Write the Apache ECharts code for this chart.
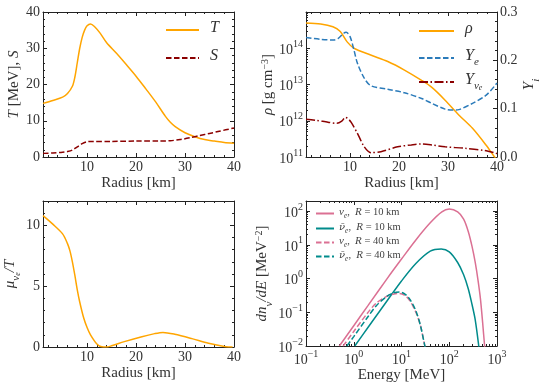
<!DOCTYPE html>
<html>
<head>
<meta charset="utf-8">
<script src="https://cdn.jsdelivr.net/npm/echarts@6/dist/echarts.min.js"></script>
<style>
  html, body { margin: 0; padding: 0; background: #fff; }
  #chart { width: 540px; height: 390px; }
</style>
</head>
<body>
<div id="chart"></div>
<script>
// ---------- data ----------
// radius axis (km)
const radiusTicks = [10, 20, 30, 40];
const radiusMinor = [2, 4, 6, 8, 12, 14, 16, 18, 22, 24, 26, 28, 32, 34, 36, 38];

// top-left: temperature T [MeV] and entropy S
const tempT = [[1, 14.8], [3, 15.6], [5, 16.5], [6, 17.5], [7, 19.5], [7.5, 22], [8, 26], [8.5, 30], [9, 33],
  [9.5, 35], [10, 36.2], [10.7, 36.7], [11.5, 36], [12.7, 34.1], [14, 31.5], [16, 28.6], [18, 25.5], [20, 22.3],
  [22, 18.8], [24, 15.2], [26, 11.2], [27, 9.6], [28, 8.4], [30, 6.7], [32, 5.6], [34, 4.8], [36, 4.4], [38, 4.0], [40, 3.8]];
const entropyS = [[1, 1.0], [3, 1.1], [5, 1.3], [6, 1.5], [7, 1.9], [8, 2.8], [9, 3.7], [10, 4.2], [11, 4.3],
  [15, 4.3], [20, 4.4], [25, 4.4], [27, 4.5], [29, 4.8], [31, 5.3], [33, 5.9], [35, 6.5], [37, 7.1], [40, 8.0]];
const tTicks = [0, 10, 20, 30, 40];
const tMinor = [2, 4, 6, 8, 12, 14, 16, 18, 22, 24, 26, 28, 32, 34, 36, 38];

// top-right: density rho [g cm^-3] and fractions Y_e, Y_nue
const density = [[1, 5.0e14], [4, 4.7e14], [6.5, 3.9e14], [8, 2.9e14], [9.4, 1.5e14], [10.8, 1.0e14], [14.2, 6.5e13],
  [17.7, 4.3e13], [21.1, 2.5e13], [24.6, 1.3e13], [26.7, 8.3e12], [29.4, 3.7e12], [32.2, 1.45e12], [35, 6.2e11],
  [37.8, 2.1e11], [39.5, 1.0e11], [40, 0.85e11]];
const fracYe = [[1, 0.247], [3.9, 0.2435], [6.6, 0.242], [7.6, 0.2455], [8.7, 0.256], [9.2, 0.258], [10, 0.249],
  [10.8, 0.221], [11.5, 0.194], [12.9, 0.163], [14.25, 0.1475], [17.7, 0.14], [21.1, 0.133], [24.6, 0.121],
  [26.7, 0.111], [29.4, 0.099], [31, 0.097], [32.2, 0.098], [35, 0.111], [37.8, 0.128], [40, 0.153]];
const fracYnue = [[1, 0.078], [3, 0.076], [5.5, 0.072], [7.3, 0.0697], [8.3, 0.074], [9.05, 0.082], [9.6, 0.079],
  [10.2, 0.072], [11.5, 0.049], [12.9, 0.021], [14.25, 0.009], [16.3, 0.011], [19.7, 0.021], [22.5, 0.025],
  [24.6, 0.027], [26.7, 0.025], [29.4, 0.021], [33.5, 0.018], [37.8, 0.013], [40, 0.007]];
const rhoTicks = [1e11, 1e12, 1e13, 1e14, 1e15];
const rhoMinor = [11, 12, 13, 14].flatMap(e => [2, 3, 4, 5, 6, 7, 8, 9].map(m => m * Math.pow(10, e)));
const yiTicks = [0, 0.1, 0.2, 0.3];
const yiMinor = [0.02, 0.04, 0.06, 0.08, 0.12, 0.14, 0.16, 0.18, 0.22, 0.24, 0.26, 0.28];

// bottom-left: degeneracy mu_nue / T
const degeneracy = [[1, 10.8], [3, 10.1], [5, 9.3], [6, 8.5], [6.5, 7.9], [7, 7.0], [7.5, 5.9], [8, 4.7],
  [8.5, 3.7], [9.3, 2.4], [10, 1.6], [10.7, 1.0], [12, 0.25], [13, 0.02], [14, 0], [15, 0.1], [17.6, 0.44],
  [21, 0.83], [23.8, 1.1], [25.5, 1.2], [27.9, 1.05], [31.4, 0.69], [34.8, 0.3], [38.3, 0.03], [39.7, 0]];
const muTicks = [0, 5, 10];
const muMinor = [1, 2, 3, 4, 6, 7, 8, 9, 11];

// bottom-right: spectra dn/dE [MeV^-2] vs energy [MeV]
const nue10 = [[0.5, 0.01], [1, 0.04], [2, 0.16], [5, 1.0], [10, 3.8], [20, 14], [40, 45], [70, 95], [100, 115],
  [150, 95], [200, 58], [250, 25], [300, 9], [350, 3], [400, 0.9], [450, 0.25], [500, 0.05], [550, 0.01], [570, 0.006]];
const anue10 = [[1.05, 0.01], [2, 0.036], [5, 0.22], [10, 0.85], [20, 2.8], [40, 6.5], [68, 7.5], [100, 6.2],
  [150, 3], [200, 1.3], [250, 0.5], [300, 0.17], [350, 0.06], [415, 0.01], [430, 0.006]];
const nue40 = [[0.6, 0.01], [1, 0.027], [2, 0.1], [3, 0.19], [5, 0.3], [7, 0.35], [9, 0.36], [12, 0.31],
  [15, 0.22], [20, 0.1], [25, 0.04], [30, 0.012], [32, 0.008]];
const anue40 = [[0.72, 0.01], [1, 0.019], [2, 0.075], [3, 0.16], [5, 0.3], [7, 0.38], [9, 0.4], [12, 0.34],
  [15, 0.24], [20, 0.11], [25, 0.04], [30, 0.012], [32, 0.008]];
const energyTicks = [0.1, 1, 10, 100, 1000];
const energyMinor = [-1, 0, 1, 2].flatMap(e => [2, 3, 4, 5, 6, 7, 8, 9].map(m => m * Math.pow(10, e)));
const specTicks = [0.01, 0.1, 1, 10, 100];
const specMinor = [-2, -1, 0, 1, 2].flatMap(e => [2, 3, 4, 5, 6, 7, 8, 9].map(m => m * Math.pow(10, e))).filter(v => v < 200);

// ---------- style ----------
const FONT = "'Liberation Serif', 'DejaVu Serif', serif";
const INK = '#222';   // frame and ticks
const TEXT = '#333';  // labels
const ORANGE = '#ffa500';
const DARKRED = '#8b0000';
const BLUE = '#2b7bba';
const PINK = '#db7093';
const TEAL = '#008b8b';

const tok = (extra) => Object.assign({ fontFamily: FONT, fontWeight: 'normal', color: TEXT }, extra);

const labelRich = {
  b: tok({ fontSize: 14, lineHeight: 18, verticalAlign: 'bottom' }),
  sup: tok({ fontSize: 10, lineHeight: 10, verticalAlign: 'top' })
};
const nameRich = {
  r: tok({ fontSize: 15, lineHeight: 20, verticalAlign: 'top' }),
  i: tok({ fontSize: 15, fontStyle: 'italic', lineHeight: 20, verticalAlign: 'top' }),
  sup: tok({ fontSize: 10, lineHeight: 10, verticalAlign: 'top' }),
  sub: tok({ fontSize: 11, fontStyle: 'italic', lineHeight: 11, verticalAlign: 'bottom' }),
  sub2: tok({ fontSize: 8, fontStyle: 'italic', lineHeight: 8, verticalAlign: 'bottom' })
};
const nameStyle = tok({ fontSize: 15, rich: nameRich });

const powLabel = v => {
  const e = Math.round(Math.log10(v));
  if (Math.abs(Math.log10(v) - e) > 1e-6) return '';
  return '{b|10}{sup|' + (e < 0 ? '\u2212' + (-e) : e) + '}';
};

// main axis (frame line + major ticks + optional labels) and a companion axis for minor ticks
function axisPair(o) {
  const main = {
    type: o.type || 'value', gridIndex: o.grid, position: o.pos, min: o.min, max: o.max,
    axisLine: { show: true, onZero: false, lineStyle: { color: INK, width: 1 } },
    axisTick: { show: true, inside: true, length: 4, customValues: o.majors, lineStyle: { color: INK, width: 1 } },
    axisLabel: o.labels ? Object.assign(tok({ fontSize: 14, rich: labelRich }), {
      show: true, customValues: o.majors, margin: o.margin || 3, formatter: o.formatter
    }) : { show: false },
    splitLine: { show: false },
    minorTick: { show: false }
  };
  if (o.name) {
    Object.assign(main, { name: o.name, nameLocation: 'middle', nameGap: o.nameGap, nameTextStyle: nameStyle });
    if (o.nameRotate != null) main.nameRotate = o.nameRotate;
  }
  const minor = {
    type: o.type || 'value', gridIndex: o.grid, position: o.pos, min: o.min, max: o.max,
    axisLine: { show: false, onZero: false },
    axisTick: { show: true, inside: true, length: 2, customValues: o.minors, lineStyle: { color: INK, width: 1 } },
    axisLabel: { show: false },
    splitLine: { show: false }
  };
  if (o.type === 'log') { main.logBase = 10; minor.logBase = 10; }
  return [main, minor];
}

const radiusAxes = (grid) => [
  ...axisPair({ grid, pos: 'bottom', min: 1, max: 40, majors: radiusTicks, minors: radiusMinor, labels: true,
    formatter: v => String(v), name: '{r|Radius [km]}', nameGap: 19 }),
  ...axisPair({ grid, pos: 'top', min: 1, max: 40, majors: radiusTicks, minors: radiusMinor })
];

const xAxes = [
  ...radiusAxes(0),   // 0..3
  ...radiusAxes(1),   // 4..7
  ...radiusAxes(2),   // 8..11
  ...axisPair({ grid: 3, pos: 'bottom', type: 'log', min: 0.1, max: 1000, majors: energyTicks, minors: energyMinor,
    labels: true, formatter: powLabel, name: '{r|Energy [MeV]}', nameGap: 19 }),
  ...axisPair({ grid: 3, pos: 'top', type: 'log', min: 0.1, max: 1000, majors: energyTicks, minors: energyMinor })
];

const yAxes = [
  // 0..3 top-left
  ...axisPair({ grid: 0, pos: 'left', min: 0, max: 40, majors: tTicks, minors: tMinor, labels: true,
    formatter: v => String(v), name: '{i|T}{r| [MeV], }{i|S}', nameGap: 16, nameRotate: 90 }),
  ...axisPair({ grid: 0, pos: 'right', min: 0, max: 40, majors: tTicks, minors: tMinor }),
  // 4..7 top-right
  ...axisPair({ grid: 1, pos: 'left', type: 'log', min: 1e11, max: 1e15, majors: rhoTicks, minors: rhoMinor,
    labels: true, formatter: powLabel, name: '{i|ρ}{r| [g cm}{sup|\u22123}{r|]}', nameGap: 17, nameRotate: 90 }),
  ...axisPair({ grid: 1, pos: 'right', min: 0, max: 0.3, majors: yiTicks, minors: yiMinor, labels: true,
    formatter: v => v.toFixed(1), name: '{i|Y}{sub|i}', nameGap: 21, nameRotate: 90 }),
  // 8..11 bottom-left
  ...axisPair({ grid: 2, pos: 'left', min: 0, max: 12, majors: muTicks, minors: muMinor, labels: true,
    formatter: v => String(v), name: '{i|μ}{sub|ν}{sub2|e}{i|/T}', nameGap: 18, nameRotate: 90 }),
  ...axisPair({ grid: 2, pos: 'right', min: 0, max: 12, majors: muTicks, minors: muMinor }),
  // 12..15 bottom-right
  ...axisPair({ grid: 3, pos: 'left', type: 'log', min: 0.01, max: 200, majors: specTicks, minors: specMinor,
    labels: true, formatter: powLabel, name: '{i|dn}{sub|ν}{i|/dE}{r| [MeV}{sup|\u22122}{r|]}', nameGap: 19, nameRotate: 90 }),
  ...axisPair({ grid: 3, pos: 'right', type: 'log', min: 0.01, max: 200, majors: specTicks, minors: specMinor })
];

const line = (name, data, xi, yi, color, type) => ({
  name, type: 'line', data, xAxisIndex: xi, yAxisIndex: yi,
  symbol: 'none', showSymbol: false, smooth: 0.3, clip: true,
  lineStyle: { color, width: 1.5, type: type || 'solid' },
  itemStyle: { color }
});

const DASH = [5.5, 2.5];
const DASHDOT = [9, 2.5, 1.5, 2.5];

const series = [
  line('T', tempT, 0, 0, ORANGE),
  line('S', entropyS, 0, 0, DARKRED, DASH),
  line('rho', density, 4, 4, ORANGE),
  line('Ye', fracYe, 4, 6, BLUE, DASH),
  line('Ynue', fracYnue, 4, 6, DARKRED, DASHDOT),
  line('mu', degeneracy, 8, 8, ORANGE),
  line('nue10', nue10, 12, 12, PINK),
  line('anue10', anue10, 12, 12, TEAL),
  line('nue40', nue40, 12, 12, PINK, DASH),
  line('anue40', anue40, 12, 12, TEAL, DASH)
];

const legendLabels = {
  T: '{i|T}', S: '{i|S}',
  rho: '{i|ρ}', Ye: '{i|Y}{sub|e}', Ynue: '{i|Y}{sub|ν}{sub2|e}',
  nue10: '{i|ν}{sub|e}{t|,  }{i|R}{t| = 10 km}',
  anue10: '{bar|ν̄}{sub|e}{t|,  }{i|R}{t| = 10 km}',
  nue40: '{i|ν}{sub|e}{t|,  }{i|R}{t| = 40 km}',
  anue40: '{bar|ν̄}{sub|e}{t|,  }{i|R}{t| = 40 km}'
};

const bigLegendRich = {
  i: tok({ fontSize: 16, fontStyle: 'italic', lineHeight: 20, verticalAlign: 'top', padding: [0, 0, 0, 6] }),
  sub: tok({ fontSize: 11, fontStyle: 'italic', lineHeight: 11, verticalAlign: 'bottom' }),
  sub2: tok({ fontSize: 8, fontStyle: 'italic', lineHeight: 8, verticalAlign: 'bottom' })
};
const SMALL = '#444';
const smallLegendRich = {
  i: tok({ fontSize: 11, fontStyle: 'italic', lineHeight: 13, verticalAlign: 'top', color: SMALL }),
  bar: tok({ fontFamily: "'DejaVu Serif', serif", fontSize: 10, fontStyle: 'italic', lineHeight: 13, verticalAlign: 'top', color: SMALL }),
  sub: tok({ fontSize: 7.5, fontStyle: 'italic', lineHeight: 7, verticalAlign: 'bottom', color: SMALL }),
  t: tok({ fontSize: 10.5, lineHeight: 13, verticalAlign: 'top', color: SMALL })
};

// one legend block per entry so every row sits where the reference has it
const legendItem = (name, left, top, w, rich) => ({
  data: [name], left, top, itemWidth: w, itemHeight: 10, itemGap: 0,
  selectedMode: false, padding: 0,
  itemStyle: { opacity: 0 },
  formatter: n => legendLabels[n],
  textStyle: tok({ fontSize: 12, rich })
});

const option = {
  animation: false,
  backgroundColor: '#fff',
  grid: [
    { left: 43, top: 12, width: 191, height: 145, outerBoundsMode: 'none' },
    { left: 306, top: 12, width: 191, height: 145, outerBoundsMode: 'none' },
    { left: 43, top: 201, width: 191, height: 146, outerBoundsMode: 'none' },
    { left: 306, top: 201, width: 191, height: 145, outerBoundsMode: 'none' }
  ],
  xAxis: xAxes,
  yAxis: yAxes,
  legend: [
    legendItem('T', 165, 20, 33, bigLegendRich),
    legendItem('S', 165, 48, 33, bigLegendRich),
    legendItem('rho', 418, 21, 35, bigLegendRich),
    legendItem('Ye', 418, 48, 35, bigLegendRich),
    legendItem('Ynue', 418, 72, 35, bigLegendRich),
    legendItem('nue10', 315, 207, 18, smallLegendRich),
    legendItem('anue10', 315, 222, 18, smallLegendRich),
    legendItem('nue40', 315, 236, 18, smallLegendRich),
    legendItem('anue40', 315, 250, 18, smallLegendRich)
  ],
  series
};

const chart = echarts.init(document.getElementById('chart'), null, { renderer: 'canvas' });
chart.setOption(option);
</script>
</body>
</html>
